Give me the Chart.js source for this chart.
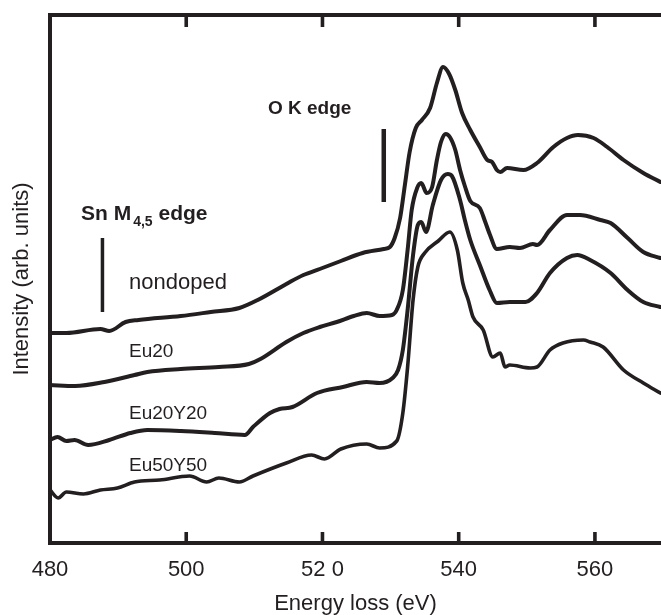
<!DOCTYPE html>
<html lang="en">
  <head>
    <meta charset="UTF-8" />
    <title>EELS O K edge</title>
    <script src="https://cdn.jsdelivr.net/npm/chart.js@4.4.1/dist/chart.umd.min.js"></script>
    <style>
      body { margin: 0; background: #fff; }
    </style>
  </head>
  <body>
    <canvas id="myChart" width="661" height="615"></canvas>

    <script>
      // energy loss (eV) and intensity (arb. units)
      const nondopedE = [480.0, 482.4, 487.4, 488.7, 491.1, 493.0, 499.2, 503.6, 507.8, 510.5, 514.7, 517.2, 519.6, 522.7, 525.9, 529.0, 529.9, 530.6, 531.4, 532.1, 532.8, 533.7, 534.6, 535.8, 536.8, 537.7, 538.6, 539.5, 540.5, 541.7, 543.1, 544.2, 544.9, 545.6, 546.1, 547.1, 549.5, 551.5, 553.9, 555.9, 557.5, 559.8, 561.8, 564.2, 567.1, 569.6];
      const nondopedI = [21.0, 21.0, 21.4, 21.2, 22.1, 22.3, 22.7, 23.1, 23.5, 24.3, 25.9, 26.8, 27.4, 28.2, 29.0, 29.4, 29.6, 30.5, 32.5, 35.8, 39.1, 41.5, 42.3, 43.5, 46.0, 47.6, 46.9, 45.3, 43.0, 41.3, 39.6, 38.3, 38.1, 37.3, 37.1, 37.5, 37.3, 38.0, 39.6, 40.5, 40.8, 40.5, 39.6, 38.3, 37.0, 36.1];

      const eu20E = [480.0, 483.7, 488.0, 492.4, 494.3, 499.2, 504.8, 509.2, 510.9, 514.7, 517.2, 519.6, 522.1, 524.6, 526.5, 528.4, 530.2, 530.9, 531.8, 532.5, 533.1, 533.9, 534.5, 535.3, 536.1, 536.8, 537.4, 538.1, 538.7, 539.5, 540.2, 540.9, 541.7, 543.1, 543.9, 544.6, 545.6, 547.5, 549.0, 550.9, 551.5, 553.4, 555.9, 557.8, 560.8, 562.3, 564.8, 567.1, 569.6];
      const eu20I = [15.8, 15.7, 16.1, 16.8, 17.1, 17.4, 17.6, 17.9, 18.4, 20.1, 21.0, 21.6, 22.1, 22.7, 23.0, 22.7, 22.8, 23.3, 25.3, 29.3, 33.3, 35.5, 36.0, 35.0, 35.6, 38.3, 40.1, 40.9, 40.6, 39.3, 37.3, 35.7, 34.2, 33.5, 32.1, 30.8, 29.4, 29.6, 29.5, 29.9, 29.8, 31.3, 32.8, 32.8, 32.3, 32.0, 30.5, 29.1, 28.5];

      const eu20y20E = [480.0, 481.1, 482.4, 483.6, 485.6, 488.7, 491.8, 494.3, 499.2, 504.2, 508.6, 509.8, 512.3, 513.7, 515.6, 519.2, 523.0, 526.5, 528.4, 530.3, 531.1, 531.8, 532.5, 533.3, 534.0, 534.5, 535.2, 536.2, 537.4, 538.4, 539.0, 540.2, 540.9, 541.7, 543.1, 544.6, 545.6, 547.5, 549.8, 551.5, 553.4, 555.9, 557.4, 559.3, 562.3, 564.8, 567.1, 569.6];
      const eu20y20I = [10.3, 10.6, 10.2, 10.3, 9.8, 10.3, 11.0, 11.3, 11.2, 11.0, 10.8, 11.6, 13.0, 13.4, 13.6, 15.0, 15.6, 16.1, 16.0, 16.5, 17.3, 19.3, 23.3, 28.8, 31.8, 32.1, 31.1, 33.8, 36.3, 36.9, 36.7, 34.3, 32.3, 30.3, 27.8, 25.2, 24.0, 24.1, 24.1, 25.0, 27.0, 28.5, 28.8, 28.3, 27.0, 25.3, 24.1, 23.6];

      const eu50y50E = [480.0, 481.2, 482.4, 484.9, 487.4, 489.9, 492.4, 496.1, 500.5, 503.0, 504.8, 507.8, 509.8, 514.7, 518.4, 520.3, 522.7, 526.5, 528.4, 530.9, 531.8, 532.5, 533.3, 534.0, 535.0, 537.0, 538.7, 539.8, 540.6, 541.4, 542.1, 543.6, 545.0, 546.1, 546.8, 547.5, 550.5, 551.5, 553.4, 555.3, 558.3, 559.3, 561.2, 564.2, 567.1, 569.6];
      const eu50y50I = [5.3, 4.5, 5.1, 4.9, 5.3, 5.5, 6.1, 6.3, 6.7, 6.1, 6.5, 6.1, 6.7, 8.0, 8.8, 8.4, 9.4, 9.9, 9.5, 10.2, 13.0, 17.6, 24.3, 27.6, 29.0, 30.2, 31.1, 29.3, 26.0, 24.3, 22.6, 21.3, 18.6, 19.0, 17.6, 17.8, 17.5, 17.6, 19.3, 20.0, 20.3, 20.1, 19.6, 17.3, 16.0, 15.0];

      // edge markers (vertical bars)
      const snEdgeE = [487.7, 487.7];
      const snEdgeI = [30.5, 23.1];
      const oEdgeE = [529.0, 529.0];
      const oEdgeI = [41.4, 34.1];

      const xTicks = [480, 500, 520, 540, 560];
      const xTickLabels = ["480", "500", "52 0", "540", "560"];

      const INK = "#231f20";
      const FONT = "'Liberation Sans', Arial, Helvetica, sans-serif";

      function pts(xs, ys) {
        return xs.map((x, i) => ({ x: x, y: ys[i] }));
      }

      function curve(xs, ys, w) {
        return {
          data: pts(xs, ys),
          borderColor: INK,
          borderWidth: w,
          pointRadius: 0,
          fill: false,
          cubicInterpolationMode: "monotone",
          borderJoinStyle: "round",
          borderCapStyle: "round",
        };
      }

      function bar(xs, ys, w) {
        return {
          data: pts(xs, ys),
          borderColor: INK,
          borderWidth: w,
          pointRadius: 0,
          fill: false,
          tension: 0,
        };
      }

      // top frame line, inward ticks and the text labels
      const frame = {
        id: "frame",
        afterDraw(chart) {
          const ctx = chart.ctx;
          const a = chart.chartArea;
          const xs = chart.scales.x;
          ctx.save();
          ctx.strokeStyle = INK;
          ctx.lineWidth = 4;
          ctx.beginPath();
          ctx.moveTo(a.left - 2, a.top);
          ctx.lineTo(a.right, a.top);
          ctx.stroke();
          ctx.lineWidth = 3.6;
          xTicks.slice(1).forEach((v) => {
            const px = xs.getPixelForValue(v);
            ctx.beginPath();
            ctx.moveTo(px, a.top);
            ctx.lineTo(px, a.top + 12);
            ctx.moveTo(px, a.bottom);
            ctx.lineTo(px, a.bottom - 11);
            ctx.stroke();
          });

          ctx.fillStyle = INK;
          ctx.textBaseline = "alphabetic";
          ctx.textAlign = "left";

          ctx.font = "bold 19px " + FONT;
          ctx.fillText("O K edge", 268, 114);

          let x = 81;
          ctx.font = "bold 21px " + FONT;
          ctx.fillText("Sn M", x, 220);
          x += ctx.measureText("Sn M").width + 2;
          ctx.font = "bold 14px " + FONT;
          ctx.fillText("4,5", x, 226);
          x += ctx.measureText("4,5").width;
          ctx.font = "bold 21px " + FONT;
          ctx.fillText(" edge", x, 220);

          ctx.font = "22px " + FONT;
          ctx.fillText("nondoped", 129, 289);
          ctx.font = "19px " + FONT;
          ctx.fillText("Eu20", 129, 357);
          ctx.fillText("Eu20Y20", 129, 419);
          ctx.fillText("Eu50Y50", 129, 471);
          ctx.restore();
        },
      };

      const ctx = document.getElementById("myChart").getContext("2d");
      const myChart = new Chart(ctx, {
        type: "line",
        data: {
          datasets: [
            curve(nondopedE, nondopedI, 4),
            curve(eu20E, eu20I, 4),
            curve(eu20y20E, eu20y20I, 4),
            curve(eu50y50E, eu50y50I, 3.6),
            bar(snEdgeE, snEdgeI, 3.5),
            bar(oEdgeE, oEdgeI, 4.5),
          ],
        },
        options: {
          responsive: false,
          animation: false,
          layout: { padding: { top: 15, right: 0, bottom: 0, left: 0 } },
          plugins: {
            legend: { display: false },
            tooltip: { enabled: false },
          },
          scales: {
            x: {
              type: "linear",
              min: 480,
              max: 569.7,
              grid: { display: false, drawTicks: false },
              border: { display: true, color: INK, width: 4 },
              afterBuildTicks: (s) => {
                s.ticks = xTicks.map((v) => ({ value: v }));
              },
              ticks: {
                autoSkip: false,
                maxRotation: 0,
                padding: 14,
                color: INK,
                font: { family: FONT, size: 22 },
                callback: (v) => xTickLabels[xTicks.indexOf(v)],
              },
              title: {
                display: true,
                text: "Energy loss (eV)",
                color: INK,
                font: { family: FONT, size: 22, lineHeight: 1 },
                padding: { top: 0, bottom: 0 },
              },
              afterFit: (s) => {
                s.height = 72;
              },
            },
            y: {
              min: 0,
              max: 52.8,
              grid: { display: false, drawTicks: false },
              border: { display: true, color: INK, width: 4 },
              ticks: { display: false },
              title: {
                display: true,
                text: "Intensity (arb. units)",
                color: INK,
                font: { family: FONT, size: 22, lineHeight: 1 },
                padding: { top: 11, bottom: 0 },
              },
              afterFit: (s) => {
                s.width = 50;
              },
            },
          },
        },
        plugins: [frame],
      });
    </script>
  </body>
</html>
